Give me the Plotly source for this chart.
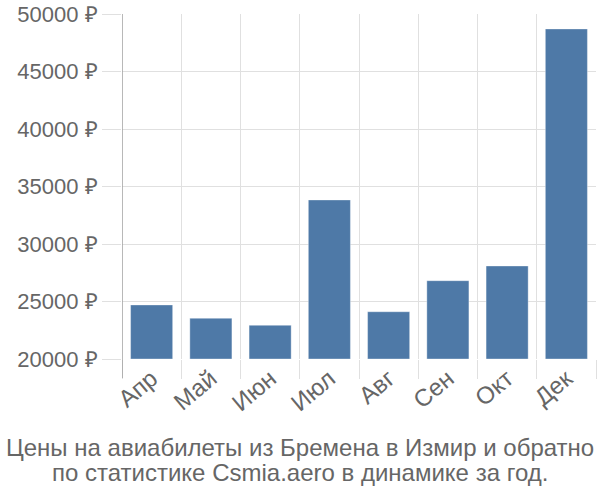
import plotly.graph_objects as go

months = ["Апр", "Май", "Июн", "Июл", "Авг", "Сен", "Окт", "Дек"]
prices = [24700, 23540, 22930, 33830, 24110, 26810, 28090, 48700]
y_ticks = [20000, 25000, 30000, 35000, 40000, 45000, 50000]
y_tick_labels = [f"{v} ₽" for v in y_ticks]
title_lines = [
    "Цены на авиабилеты из Бремена в Измир и обратно",
    "по статистике Csmia.aero в динамике за год.",
]

font_family = "Liberation Sans, Arial, sans-serif"
text_color = "#666666"

fig = go.Figure(
    go.Bar(
        x=months,
        y=[p - 20000 for p in prices],
        base=20000,
        marker=dict(color="#4e79a7", line=dict(color="rgba(255,255,255,0.35)", width=1)),
        width=0.71,
        hoverinfo="skip",
    )
)

annotations = []
for i, line in enumerate(title_lines):
    annotations.append(
        dict(
            text=line,
            xref="paper",
            yref="paper",
            x=(300 - 122) / 474,
            y=-(447 + 25 * i - 359) / 345,
            xanchor="center",
            yanchor="middle",
            showarrow=False,
            font=dict(family=font_family, size=24, color=text_color),
        )
    )

fig.update_layout(
    width=600,
    height=500,
    margin=dict(l=122, r=4, t=14, b=141),
    paper_bgcolor="white",
    plot_bgcolor="white",
    showlegend=False,
    font=dict(family=font_family, color=text_color, size=22),
    annotations=annotations,
    xaxis=dict(
        type="category",
        tickson="boundaries",
        showgrid=True,
        gridcolor="#e0e0e0",
        gridwidth=1,
        ticks="outside",
        ticklen=19,
        tickcolor="#e0e0e0",
        tickangle=-40,
        tickfont=dict(size=24, color=text_color),
        showline=False,
        zeroline=False,
        automargin=False,
        range=[-0.5, 7.5],
    ),
    yaxis=dict(
        range=[20000, 50000],
        tickvals=y_ticks,
        ticktext=y_tick_labels,
        showgrid=True,
        gridcolor="#e0e0e0",
        gridwidth=1,
        ticks="outside",
        ticklen=19,
        tickcolor="#e0e0e0",
        tickfont=dict(size=22, color=text_color),
        showline=False,
        zeroline=False,
        automargin=False,
    ),
    shapes=[
        dict(
            type="line",
            xref="x",
            yref="paper",
            x0=-0.5,
            x1=-0.5,
            y0=-19 / 345,
            y1=1,
            line=dict(color="#a0a0a0", width=1.5),
        )
    ],
)

fig.write_html("out.html")
